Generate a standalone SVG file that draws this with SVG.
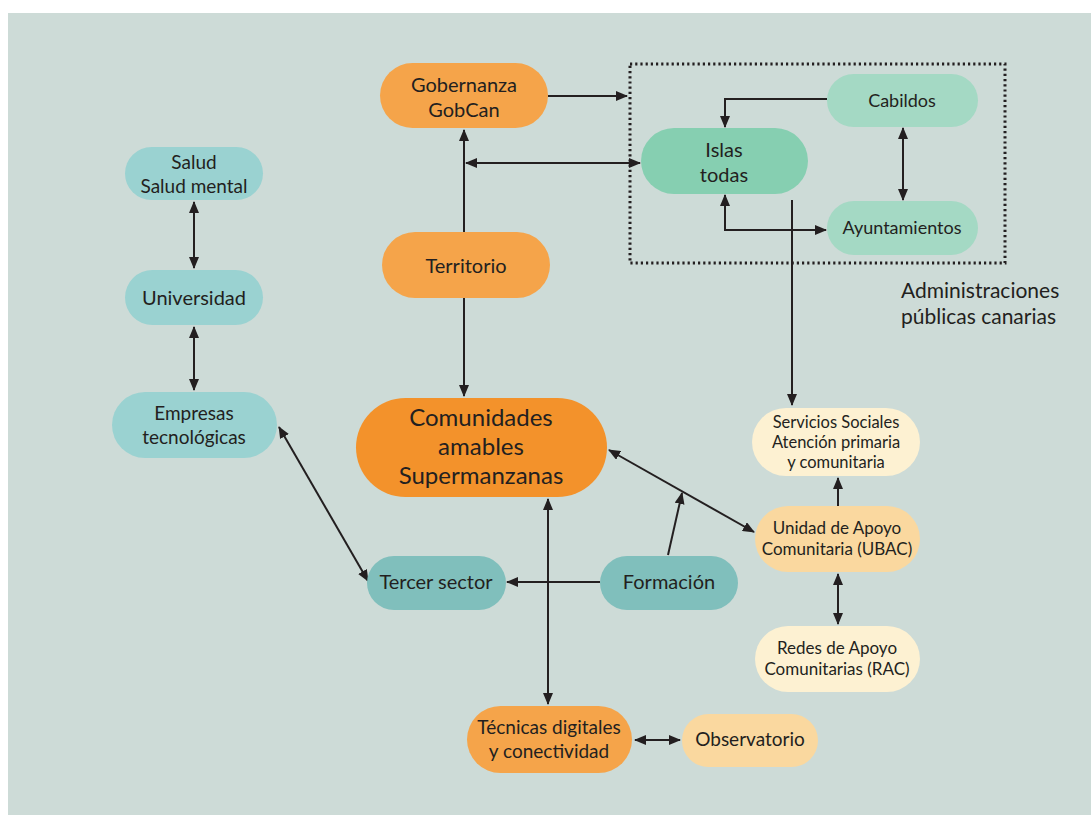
<svg xmlns="http://www.w3.org/2000/svg" width="1091" height="815" viewBox="0 0 1091 815">
<defs>
<marker id="ah" viewBox="0 0 12 10" refX="11" refY="5" markerWidth="12" markerHeight="10" markerUnits="userSpaceOnUse" orient="auto-start-reverse">
<path d="M0,0 L12,5 L0,10 z" fill="#231f20"/>
</marker>
<style>
.t{font-family:Lato,"Open Sans","Liberation Sans",sans-serif;fill:#231f20;text-anchor:middle}
.s21{font-size:21px}
.s20{font-size:20px}
.s19{font-size:19px}
.s18{font-size:18px}
.s17{font-size:17px}
.s16{font-size:16.5px}
.s24{font-size:24px}
.c{fill:none;stroke:#231f20;stroke-width:2}
.a{marker-end:url(#ah)}
.b{marker-start:url(#ah);marker-end:url(#ah)}
.or{fill:#f5a44a}
.or2{fill:#f3922b}
.tl{fill:#9ad2d1}
.td{fill:#80bfbc}
.mt{fill:#86cfb1}
.ml{fill:#a4d9c4}
.cr{fill:#fdf1d2}
.pe{fill:#fad89f}
</style>
</defs>
<rect x="8" y="13" width="1083" height="802" fill="#cddbd7"/>

<g id="connectors">
<path class="c a" d="M548,96 H627"/>
<path class="c a" d="M464,232 V130"/>
<path class="c b" d="M466,163 H640"/>
<path class="c a" d="M827,99 H725 V127"/>
<path class="c b" d="M903,128 V200"/>
<path class="c b" d="M725,195 V230 H826"/>
<path class="c a" d="M792,200 V405"/>
<path class="c a" d="M464,298 V396"/>
<path class="c b" d="M609,450 L754,532"/>
<path class="c a" d="M668,555 L682,493"/>
<path class="c a" d="M600,582 H507"/>
<path class="c b" d="M548,499 V704"/>
<path class="c b" d="M279,427 L368,581"/>
<path class="c b" d="M194,202 V268"/>
<path class="c b" d="M194,327 V390"/>
<path class="c a" d="M838,506 V478"/>
<path class="c b" d="M838,574 V624"/>
<path class="c b" d="M635,740 H680"/>
</g>

<g id="admin-box">
<rect x="630" y="64" width="375" height="199" fill="none" stroke="#231f20" stroke-width="3" stroke-dasharray="2.2 3"/>
<text class="t s21" x="901" y="298" style="text-anchor:start">Administraciones</text>
<text class="t s21" x="901" y="324" style="text-anchor:start">públicas canarias</text>
</g>

<g id="gobernanza">
<rect class="or" x="380" y="63" width="168" height="65" rx="32.5"/>
<text class="t s20" x="464" y="92">Gobernanza</text>
<text class="t s20" x="464" y="116.5">GobCan</text>
</g>
<g id="territorio">
<rect class="or" x="382" y="232" width="168" height="66" rx="33"/>
<text class="t s20" x="466" y="273">Territorio</text>
</g>
<g id="islas">
<rect class="mt" x="641" y="128" width="167" height="66" rx="33"/>
<text class="t s20" x="724" y="157">Islas</text>
<text class="t s20" x="724" y="181.5">todas</text>
</g>
<g id="cabildos">
<rect class="ml" x="827" y="74" width="151" height="53" rx="26.5"/>
<text class="t s18" x="902" y="107">Cabildos</text>
</g>
<g id="ayuntamientos">
<rect class="ml" x="827" y="201" width="151" height="54" rx="27"/>
<text class="t s18" x="902" y="234">Ayuntamientos</text>
</g>
<g id="salud">
<rect class="tl" x="125" y="147" width="138" height="53" rx="26.5"/>
<text class="t s19" x="194" y="169">Salud</text>
<text class="t s19" x="194" y="192.5">Salud mental</text>
</g>
<g id="universidad">
<rect class="tl" x="125" y="270" width="138" height="55" rx="27.5"/>
<text class="t s20" x="194" y="305">Universidad</text>
</g>
<g id="empresas">
<rect class="tl" x="112" y="392" width="165" height="66" rx="33"/>
<text class="t s19" x="194" y="420">Empresas</text>
<text class="t s19" x="194" y="443.5">tecnológicas</text>
</g>
<g id="comunidades">
<rect class="or2" x="356" y="398" width="251" height="99" rx="49.5"/>
<text class="t s24" x="481" y="426">Comunidades</text>
<text class="t s24" x="481" y="455">amables</text>
<text class="t s24" x="481" y="484">Supermanzanas</text>
</g>
<g id="tercer">
<rect class="td" x="367" y="556" width="139" height="54" rx="27"/>
<text class="t s20" x="436" y="589">Tercer sector</text>
</g>
<g id="formacion">
<rect class="td" x="600" y="556" width="138" height="54" rx="27"/>
<text class="t s20" x="669" y="589">Formación</text>
</g>
<g id="tecnicas">
<rect class="or" x="467" y="706" width="165" height="67" rx="33.5"/>
<text class="t s19" x="549" y="734">Técnicas digitales</text>
<text class="t s19" x="549" y="757.5">y conectividad</text>
</g>
<g id="observatorio">
<rect class="pe" x="682" y="714" width="136" height="53" rx="26.5"/>
<text class="t s19" x="750" y="746">Observatorio</text>
</g>
<g id="servicios">
<rect class="cr" x="752" y="408" width="168" height="68" rx="34"/>
<text class="t s16" x="836" y="428">Servicios Sociales</text>
<text class="t s16" x="836" y="448">Atención primaria</text>
<text class="t s16" x="836" y="468">y comunitaria</text>
</g>
<g id="ubac">
<rect class="pe" x="755" y="506" width="165" height="66" rx="33"/>
<text class="t s17" x="837" y="534">Unidad de Apoyo</text>
<text class="t s17" x="837" y="555">Comunitaria (UBAC)</text>
</g>
<g id="rac">
<rect class="cr" x="755" y="626" width="165" height="66" rx="33"/>
<text class="t s17" x="837" y="654">Redes de Apoyo</text>
<text class="t s17" x="837" y="675">Comunitarias (RAC)</text>
</g>
</svg>
